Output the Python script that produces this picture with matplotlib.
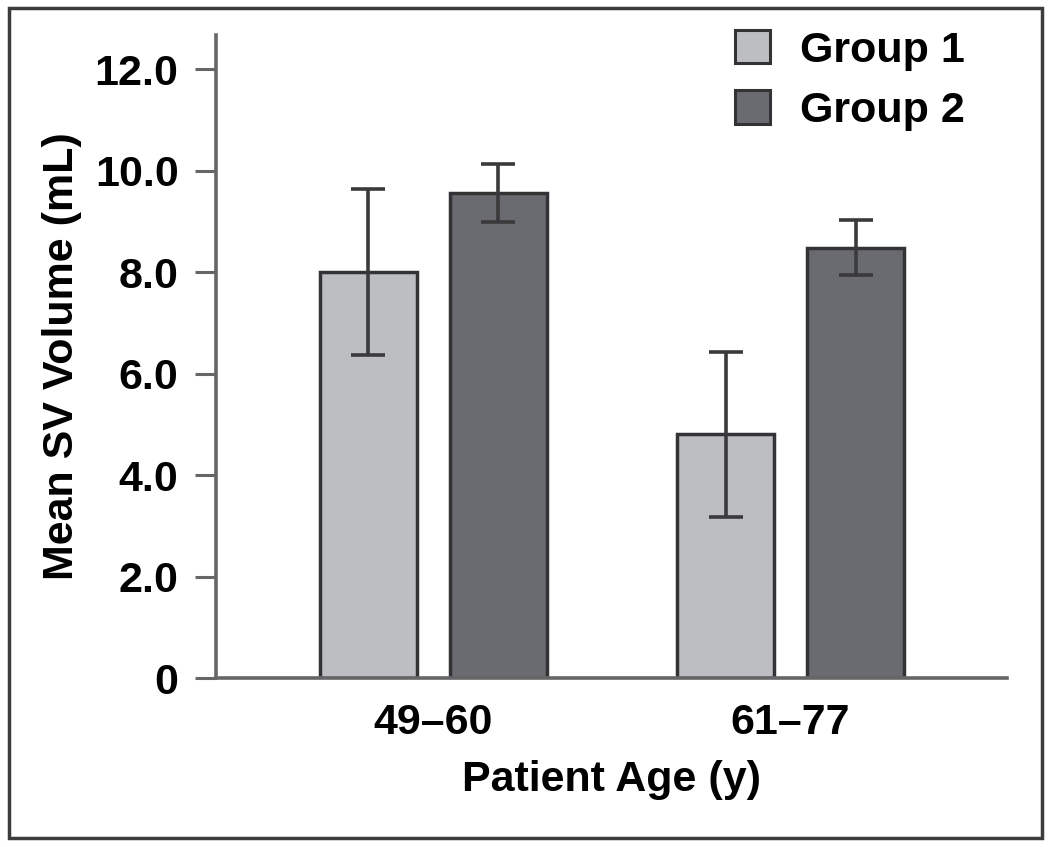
import numpy as np
import matplotlib.pyplot as plt
from matplotlib.patches import Rectangle

plt.rcParams['font.family'] = ['Liberation Sans', 'DejaVu Sans']
plt.rcParams['font.weight'] = 'bold'
plt.rcParams['axes.labelweight'] = 'bold'
plt.rcParams['font.size'] = 31

# data
age_groups = ['49\u201360', '61\u201377']
group1_mean = [8.0, 4.8]
group1_err = [1.63, 1.62]
group2_mean = [9.55, 8.48]
group2_err = [0.57, 0.54]
y_ticks = [0, 2, 4, 6, 8, 10, 12]
y_ticklabels = ['0', '2.0', '4.0', '6.0', '8.0', '10.0', '12.0']

c1 = '#bdbec2'
c2 = '#6a6b70'
edge = '#333335'
axis_col = '#666666'

fig = plt.figure(figsize=(10.5, 8.47), dpi=100)
ax = fig.add_axes([216/1050, 1 - 678/847, 791/1050, 643/847])

x = np.arange(len(age_groups))
width = 0.272
offset = 0.182

err_kw = dict(ecolor='#3a3a3c', elinewidth=2.6, capsize=12.5, capthick=2.6)
ax.bar(x - offset, group1_mean, width, yerr=group1_err, color=c1,
       edgecolor=edge, linewidth=2.5, label='Group 1', error_kw=err_kw, zorder=3)
ax.bar(x + offset, group2_mean, width, yerr=group2_err, color=c2,
       edgecolor=edge, linewidth=2.5, label='Group 2', error_kw=err_kw, zorder=3)

ax.set_xlim(-0.609, 1.606)
ax.set_ylim(0, 12.67)
ax.set_xticks(x)
ax.set_xticklabels(age_groups)
ax.set_yticks(y_ticks)
ax.set_yticklabels(y_ticklabels)

ax.tick_params(axis='x', length=0, pad=18)
ax.tick_params(axis='y', length=15, width=2.2, color=axis_col, pad=12)

for s in ['top', 'right']:
    ax.spines[s].set_visible(False)
for s in ['left', 'bottom']:
    ax.spines[s].set_color(axis_col)
    ax.spines[s].set_linewidth(2.6)
ax.spines['bottom'].set_zorder(4)

ax.set_xlabel('Patient Age (y)', labelpad=12)
ax.set_ylabel('Mean SV Volume (mL)', labelpad=9)

leg = ax.legend(loc='upper left', bbox_to_anchor=(735/1050, 1 - 30/847),
                bbox_transform=fig.transFigure, frameon=False,
                borderpad=0, borderaxespad=0, handlelength=0.82,
                handleheight=0.82, handletextpad=0.68, labelspacing=0.45)
for h in leg.legend_handles:
    h.set_edgecolor(edge)
    h.set_linewidth(2.2)

# outer frame around the whole figure
fig.patches.append(Rectangle((9/1050, 1 - 838/847), 1033/1050, 830/847,
                             transform=fig.transFigure, fill=False,
                             edgecolor='#3c3c3c', linewidth=2.5))

fig.savefig('out.png', dpi=100)
